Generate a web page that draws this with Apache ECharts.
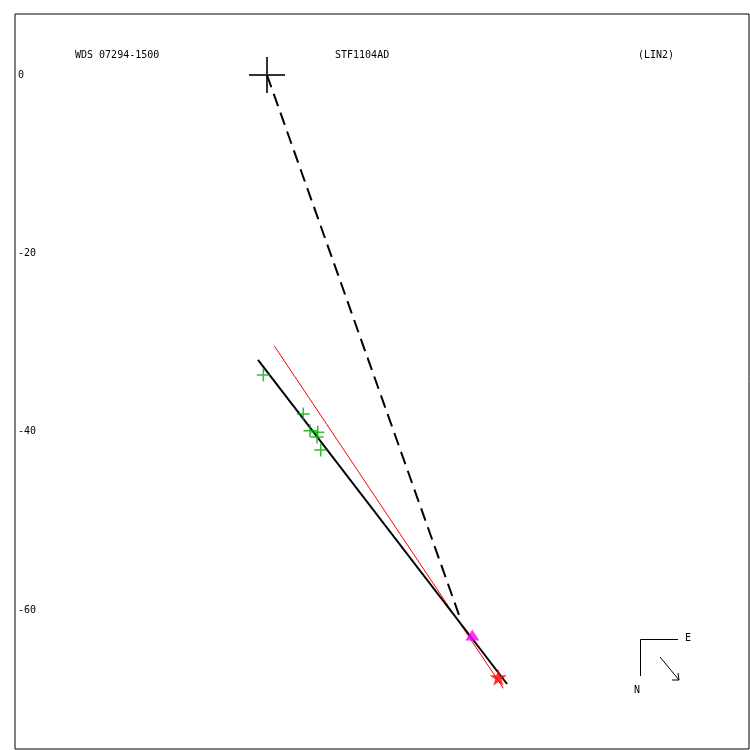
<!DOCTYPE html>
<html>
<head>
<meta charset="utf-8">
<script src="https://cdn.jsdelivr.net/npm/echarts@6/dist/echarts.min.js"></script>
<style>html,body{margin:0;padding:0;background:#fff;overflow:hidden;}#c{width:750px;height:750px;}</style>
</head>
<body>
<div id="c"></div>
<script>
// ---- data ----
var titleLeft = 'WDS 07294-1500';
var titleMid = 'STF1104AD';
var titleRight = '(LIN2)';
var yTickLabels = [0, -20, -40, -60];
var primary = [[0, 0]];
var observations = [[-0.41, -33.64], [4.07, -38.02], [4.82, -39.89], [5.69, -40.07], [5.61, -40.6], [6.02, -42.05]];
var fitLine = [[-1.01, -31.96], [26.92, -68.3]];
var redLine = [[0.82, -30.39], [26.5, -68.78]];
var dashedLine = [[0, 0], [21.53, -60.56]];
var triangle = [[23.02, -62.8]];
var star = [[25.94, -67.55]];
var xRange = [-28.26, 54.05];
var yRange = [-75.59, 6.84];

var mono = 'DejaVu Sans Mono';
var chart = echarts.init(document.getElementById('c'), null, {renderer: 'canvas'});
var plusBig = 'path://M0,17L36,17L36,19L0,19Z M17,0L19,0L19,36L17,36Z';
var plusSmall = 'path://M0,5.3L12,5.3L12,6.7L0,6.7Z M5.3,0L6.7,0L6.7,12L5.3,12Z';
var starPath = 'path://M50,0 L61,35 L98,35 L68,57 L79,91 L50,70 L21,91 L32,57 L2,35 L39,35 Z';

chart.setOption({
  animation: false,
  backgroundColor: '#fff',
  grid: {left: 15, top: 14, right: 1, bottom: 1, show: true, borderColor: '#000', borderWidth: 1, containLabel: false},
  xAxis: {type: 'value', min: xRange[0], max: xRange[1], show: false},
  yAxis: {
    type: 'value', min: yRange[0], max: yRange[1],
    axisLine: {show: false}, axisTick: {show: false}, splitLine: {show: false},
    axisLabel: {inside: true, margin: 3, customValues: yTickLabels, color: '#000', fontFamily: mono, fontSize: 10, align: 'left'}
  },
  graphic: [
    {type: 'text', left: 75, top: 50, style: {text: titleLeft, font: '10px ' + mono, fill: '#000'}},
    {type: 'text', left: 335, top: 50, style: {text: titleMid, font: '10px ' + mono, fill: '#000'}},
    {type: 'text', left: 638, top: 50, style: {text: titleRight, font: '10px ' + mono, fill: '#000'}},
    {type: 'polyline', shape: {points: [[678, 639.5], [640.5, 639.5], [640.5, 676]]}, style: {stroke: '#000', lineWidth: 1, fill: null}},
    {type: 'text', left: 685, top: 633, style: {text: 'E', font: '10px ' + mono, fill: '#000'}},
    {type: 'text', left: 634, top: 685, style: {text: 'N', font: '10px ' + mono, fill: '#000'}},
    {type: 'polyline', shape: {points: [[660, 657], [679, 680]]}, style: {stroke: '#000', lineWidth: 1, fill: null}},
    {type: 'polyline', shape: {points: [[678, 673], [679, 680], [672, 680]]}, style: {stroke: '#000', lineWidth: 1, fill: null}}
  ],
  series: [
    {type: 'line', data: dashedLine, symbol: 'none', lineStyle: {color: '#000', width: 2, type: [13, 7]}, z: 2},
    {type: 'line', data: redLine, symbol: 'none', lineStyle: {color: '#ff0000', width: 1}, z: 2},
    {type: 'line', data: fitLine, symbol: 'none', lineStyle: {color: '#000', width: 2}, z: 3},
    {type: 'scatter', data: observations, symbol: plusSmall, symbolSize: 13, itemStyle: {color: '#00aa00'}, z: 4},
    {type: 'scatter', data: primary, symbol: plusBig, symbolSize: 36, itemStyle: {color: '#000'}, z: 4},
    {type: 'scatter', data: triangle, symbol: 'triangle', symbolSize: [14, 11], itemStyle: {color: '#ff00ff'}, z: 5},
    {type: 'scatter', data: star, symbol: starPath, symbolSize: 17, itemStyle: {color: '#ff0000'}, z: 5}
  ]
});
</script>
</body>
</html>
